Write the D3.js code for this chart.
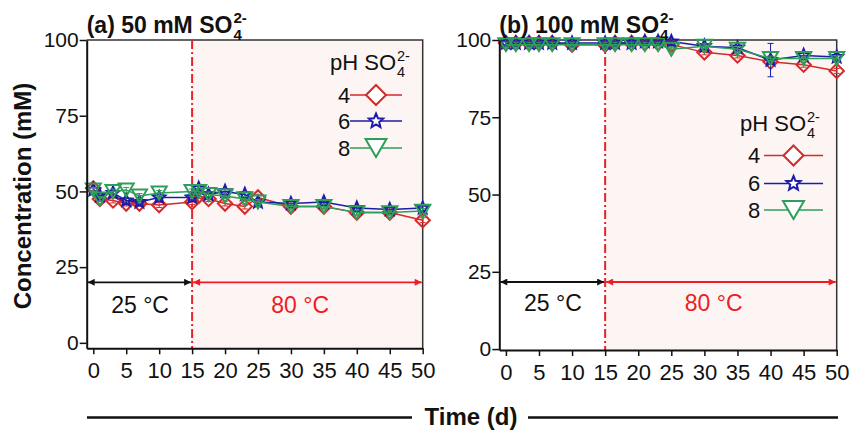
<!DOCTYPE html>
<html>
<head>
<meta charset="utf-8">
<script src="https://cdn.jsdelivr.net/npm/d3@7"></script>
<style>
body { margin: 0; background: #fff; }
text { font-family: "Liberation Sans", Arial, sans-serif; }
</style>
</head>
<body>
<svg width="851" height="431"></svg>
<script>
// sampling days
var tA = [0, 1, 3, 5, 7, 10, 15, 16, 17.5, 20, 23, 25, 30, 35, 40, 45, 50];
var tB = [0, 1.5, 3.5, 5, 7, 10, 15, 16.5, 19, 21, 23, 25, 30, 35, 40, 45, 50];

// (a) 50 mM
var redA = [51, 47.5, 47, 46, 46, 45.5, 46.5, 48.5, 47.5, 46, 45, 48, 45, 45, 43, 43, 40.5];
var blueA = [50.5, 48.5, 49.5, 47, 46.5, 48, 48, 51, 49, 50, 49, 46.5, 46, 46.5, 44.5, 44, 44.5];
var greenA = [50.5, 47.5, 50, 50.5, 48.5, 49.5, 50, 50, 49, 48.5, 47.5, 46.5, 45, 45, 43, 43, 43.5];

// (b) 100 mM
var redB = [99, 99, 99, 99, 99, 98.5, 98.5, 99, 99, 99, 99, 98.5, 96, 95, 93, 92, 90];
var blueB = [99, 99, 99, 99, 99, 99, 99, 99, 99, 99.5, 99.5, 99.5, 98, 97.5, 93.5, 95, 94.5];
var greenB = [98.5, 98.5, 98.5, 98.5, 98.5, 98.5, 98.5, 98.5, 98.5, 98.5, 98.5, 97, 98, 97, 94, 94, 94];
var errBlueB = [0.5, 0.5, 0.5, 0.5, 0.5, 0.5, 0.5, 0.5, 0.5, 0.5, 0.5, 0.5, 0.8, 0.8, 5.4, 1.2, 1];

var phLabels = ["4", "6", "8"];
var xTicks = [0, 5, 10, 15, 20, 25, 30, 35, 40, 45, 50];
var yTicks = [0, 25, 50, 75, 100];
var switchDay = 15;
var tempLabels = ["25 \u00B0C", "80 \u00B0C"];

var colors = ["#d42a2a", "#1c1ca8", "#2e9e5b"];
var shapes = ["diamond", "star", "triangle"];

var svg = d3.select("svg");

var defs = svg.append("defs");
[["arrK", "#111"], ["arrR", "#ee1c24"]].forEach(function (m) {
  defs.append("marker")
    .attr("id", m[0])
    .attr("viewBox", "0 0 10 10")
    .attr("refX", 10).attr("refY", 5)
    .attr("markerWidth", 10).attr("markerHeight", 7)
    .attr("markerUnits", "userSpaceOnUse")
    .attr("orient", "auto-start-reverse")
    .append("path")
    .attr("d", "M0,0L10,5L0,10Z")
    .attr("fill", m[1]);
});

function shapePath(kind, s) {
  if (kind == "diamond") {
    return "M0," + -s + "L" + s + ",0L0," + s + "L" + -s + ",0Z";
  }
  if (kind == "triangle") {
    var w = s * 1.05, h = s * 0.9;
    return "M" + -w + "," + -h + "L" + w + "," + -h + "L0," + h + "Z";
  }
  // five point star
  var p = [];
  for (var i = 0; i < 10; i++) {
    var r = i % 2 ? s * 0.45 : s;
    var a = -Math.PI / 2 + i * Math.PI / 5;
    p.push([r * Math.cos(a), r * Math.sin(a)]);
  }
  return "M" + p.map(function (d) { return d[0].toFixed(2) + "," + d[1].toFixed(2); }).join("L") + "Z";
}

// text followed by stacked "2-" over "4"
function sulfate(g, x, y, str, size, weight) {
  var t = g.append("text")
    .attr("x", x).attr("y", y)
    .style("font-size", size + "px")
    .style("font-weight", weight)
    .attr("fill", "#111")
    .text(str);
  var w = t.node().getComputedTextLength();
  g.append("text")
    .attr("x", x + w + 1).attr("y", y - size * 0.42)
    .style("font-size", size * 0.66 + "px")
    .style("font-weight", weight)
    .attr("fill", "#111")
    .text("2-");
  g.append("text")
    .attr("x", x + w + 1).attr("y", y + size * 0.3)
    .style("font-size", size * 0.66 + "px")
    .style("font-weight", weight)
    .attr("fill", "#111")
    .text("4");
}

var panels = [
  { t: tA, series: [redA, blueA, greenA], err: [null, null, null],
    xr: [86.7, 422.7], yr: [348.3, 40], yd: [-1.8, 100],
    title: "(a) 50 mM SO", arrowV: 20, tempV: [10, 10],
    legX: 338, legTitleY: 70, legY: [95, 121, 148], legLine: [350, 402] },
  { t: tB, series: [redB, blueB, greenB], err: [null, errBlueB, null],
    xr: [499.3, 836.7], yr: [350, 40], yd: [-0.3, 100],
    title: "(b) 100 mM SO", arrowV: 21.7, tempV: [12.4, 12.4],
    legX: 748, legTitleY: 131, legY: [155.5, 183.5, 210], legLine: [764, 823] }
];

panels.forEach(function (p) {
  var x = d3.scaleLinear().domain([-1, 50]).range(p.xr);
  var y = d3.scaleLinear().domain(p.yd).range(p.yr);
  var g = svg.append("g");

  // 80 C shading
  g.append("rect")
    .attr("x", x(switchDay)).attr("y", p.yr[1])
    .attr("width", p.xr[1] - x(switchDay)).attr("height", p.yr[0] - p.yr[1])
    .attr("fill", "#fcf5f3");

  // top / right frame
  g.append("path")
    .attr("d", "M" + p.xr[0] + "," + p.yr[1] + "H" + p.xr[1] + "V" + p.yr[0])
    .attr("fill", "none").attr("stroke", "#333").attr("stroke-width", 1.5);

  g.append("line")
    .attr("x1", x(switchDay)).attr("x2", x(switchDay))
    .attr("y1", p.yr[1]).attr("y2", p.yr[0])
    .attr("stroke", "#e8232b").attr("stroke-width", 2)
    .attr("stroke-dasharray", "9,3,2,3");

  // temperature arrows
  g.append("line")
    .attr("x1", p.xr[0] + 1).attr("x2", x(switchDay) - 1)
    .attr("y1", y(p.arrowV)).attr("y2", y(p.arrowV))
    .attr("stroke", "#111").attr("stroke-width", 1.8)
    .attr("marker-start", "url(#arrK)").attr("marker-end", "url(#arrK)");
  g.append("line")
    .attr("x1", x(switchDay) + 1).attr("x2", p.xr[1] - 1)
    .attr("y1", y(p.arrowV)).attr("y2", y(p.arrowV))
    .attr("stroke", "#ee1c24").attr("stroke-width", 1.8)
    .attr("marker-start", "url(#arrR)").attr("marker-end", "url(#arrR)");
  g.append("text")
    .attr("x", x(7.1)).attr("y", y(p.tempV[0]))
    .attr("text-anchor", "middle")
    .style("font-size", "23px").attr("fill", "#111")
    .text(tempLabels[0]);
  g.append("text")
    .attr("x", x(31.4)).attr("y", y(p.tempV[1]))
    .attr("text-anchor", "middle")
    .style("font-size", "23px").attr("fill", "#ee1c24")
    .text(tempLabels[1]);

  // series
  var line = d3.line()
    .x(function (d, i) { return x(p.t[i]); })
    .y(function (d) { return y(d); });

  p.series.forEach(function (vals, k) {
    var sg = g.append("g");
    var err = p.err[k];
    sg.selectAll(".eb")
      .data(vals)
      .enter()
      .append("path")
      .attr("d", function (d, i) {
        var e = err ? err[i] : 0.8;
        var cx = x(p.t[i]), lo = y(d - e), hi = y(d + e);
        return "M" + (cx - 3) + "," + hi + "H" + (cx + 3) +
          "M" + cx + "," + hi + "V" + lo +
          "M" + (cx - 3) + "," + lo + "H" + (cx + 3);
      })
      .attr("fill", "none").attr("stroke", colors[k]).attr("stroke-width", 1);
    sg.append("path")
      .datum(vals)
      .attr("d", line)
      .attr("fill", "none")
      .attr("stroke", colors[k])
      .attr("stroke-width", 1.5);
    sg.selectAll(".mk")
      .data(vals)
      .enter()
      .append("path")
      .attr("transform", function (d, i) {
        return "translate(" + x(p.t[i]) + "," + y(d) + ")";
      })
      .attr("d", shapePath(shapes[k], shapes[k] == "star" ? 6.5 : 7.2))
      .attr("fill", "none")
      .attr("stroke", colors[k])
      .attr("stroke-width", 2);
  });

  // axes
  var ax = g.append("g")
    .attr("transform", "translate(0," + p.yr[0] + ")")
    .call(d3.axisBottom(x).tickValues(xTicks).tickSize(6).tickSizeOuter(0).tickPadding(8));
  var ay = g.append("g")
    .attr("transform", "translate(" + p.xr[0] + ",0)")
    .call(d3.axisLeft(y).tickValues(yTicks).tickSize(7).tickSizeOuter(0).tickPadding(1));
  [ax, ay].forEach(function (a) {
    a.select(".domain").attr("stroke", "#111").attr("stroke-width", 2);
    a.selectAll(".tick line").attr("stroke", "#111").attr("stroke-width", 1.5);
    a.selectAll(".tick text").attr("fill", "#111").style("font-family", "Liberation Sans, Arial, sans-serif");
  });
  ax.selectAll(".tick text").style("font-size", "22px");
  ay.selectAll(".tick text").style("font-size", "21px");

  // title
  sulfate(g, p.xr[0], 33, p.title, 23, "bold");

  // legend
  sulfate(g, p.legX - 8, p.legTitleY, "pH SO", 22, "normal");
  phLabels.forEach(function (lab, k) {
    var ly = p.legY[k];
    g.append("text")
      .attr("x", p.legX).attr("y", ly)
      .attr("dy", "0.36em")
      .style("font-size", "22px").attr("fill", "#111")
      .text(lab);
    g.append("line")
      .attr("x1", p.legLine[0]).attr("x2", p.legLine[1])
      .attr("y1", ly).attr("y2", ly)
      .attr("stroke", colors[k]).attr("stroke-width", 1.5);
    g.append("path")
      .attr("transform", "translate(" + (p.legLine[0] + p.legLine[1]) / 2 + "," + ly + ")")
      .attr("d", shapePath(shapes[k], shapes[k] == "star" ? 7.5 : 10))
      .attr("fill", "#fff")
      .attr("stroke", colors[k])
      .attr("stroke-width", 2);
  });
});

// shared labels
svg.append("text")
  .attr("transform", "translate(31,196) rotate(-90)")
  .attr("text-anchor", "middle")
  .style("font-size", "24px").style("font-weight", "bold")
  .attr("fill", "#111")
  .text("Concentration (mM)");

svg.append("text")
  .attr("x", 471).attr("y", 425)
  .attr("text-anchor", "middle")
  .style("font-size", "24px").style("font-weight", "bold")
  .attr("fill", "#111")
  .text("Time (d)");
svg.append("line")
  .attr("x1", 87).attr("x2", 412).attr("y1", 417.5).attr("y2", 417.5)
  .attr("stroke", "#111").attr("stroke-width", 2.5);
svg.append("line")
  .attr("x1", 528).attr("x2", 838).attr("y1", 417.5).attr("y2", 417.5)
  .attr("stroke", "#111").attr("stroke-width", 2.5);
</script>
</body>
</html>
